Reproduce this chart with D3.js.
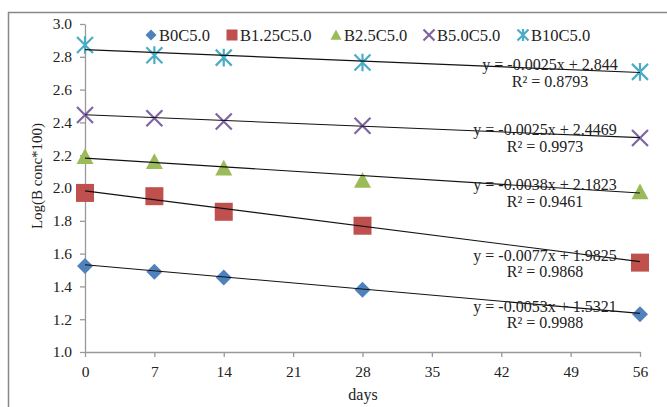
<!DOCTYPE html>
<html><head><meta charset="utf-8">
<script src="https://cdn.jsdelivr.net/npm/d3@7"></script>
<style>body{margin:0;background:#fff}svg{display:block}</style>
</head><body><svg id="c" width="667" height="407"></svg>
<script>
const days = [0, 7, 14, 28, 56];
const seriesNames = ["B0C5.0", "B1.25C5.0", "B2.5C5.0", "B5.0C5.0", "B10C5.0"];
const B0C5 = [1.525, 1.49, 1.455, 1.38, 1.23];
const B125C5 = [1.97, 1.95, 1.855, 1.77, 1.545];
const B25C5 = [2.19, 2.16, 2.12, 2.045, 1.975];
const B50C5 = [2.445, 2.425, 2.405, 2.38, 2.305];
const B10C5 = [2.872, 2.81, 2.795, 2.765, 2.708];
const slopes = [-0.0053, -0.0077, -0.0038, -0.0025, -0.0025];
const intercepts = [1.5321, 1.9825, 2.1823, 2.4469, 2.844];
const eqLabels = ["y = -0.0053x + 1.5321", "y = -0.0077x + 1.9825", "y = -0.0038x + 2.1823", "y = -0.0025x + 2.4469", "y = -0.0025x + 2.844"];
const r2Labels = ["R² = 0.9988", "R² = 0.9868", "R² = 0.9461", "R² = 0.9973", "R² = 0.8793"];
const xTicks = [0, 7, 14, 21, 28, 35, 42, 49, 56];
const yTicks = [1.0, 1.2, 1.4, 1.6, 1.8, 2.0, 2.2, 2.4, 2.6, 2.8, 3.0];

const values = [B0C5, B125C5, B25C5, B50C5, B10C5];
const colors = ["#4F81BD", "#C0504D", "#9BBB59", "#8064A2", "#4BACC6"];
const font = "'Liberation Serif','Times New Roman',serif";

const svg = d3.select("#c");
svg.append("rect").attr("x", 8.5).attr("y", 12.5).attr("width", 670).attr("height", 410)
  .attr("fill", "none").attr("stroke", "#888").attr("stroke-width", 1.5);

const x = d3.scaleLinear().domain([0, 56]).range([85, 640]);
const y = d3.scaleLinear().domain([1, 3]).range([352, 24]);

const gx = svg.append("g").attr("transform", "translate(0,352)")
  .call(d3.axisBottom(x).tickValues(xTicks).tickSize(5).tickSizeOuter(0).tickPadding(9));
const gy = svg.append("g").attr("transform", "translate(85,0)")
  .call(d3.axisLeft(y).tickValues(yTicks).tickFormat(d3.format(".1f")).tickSize(5).tickSizeOuter(0).tickPadding(8));
[gx, gy].forEach(g => {
  g.select(".domain").attr("stroke", "#999").attr("stroke-width", 1.3);
  g.selectAll(".tick line").attr("stroke", "#999").attr("stroke-width", 1.3);
  g.selectAll("text").attr("font-family", font).attr("font-size", 15.5).attr("fill", "#222");
});

svg.append("text").attr("x", 363).attr("y", 400).attr("text-anchor", "middle")
  .attr("font-family", font).attr("font-size", 16).attr("fill", "#222").text("days");
svg.append("text").attr("transform", "translate(42,176) rotate(-90)").attr("text-anchor", "middle")
  .attr("font-family", font).attr("font-size", 15).attr("fill", "#222").text("Log(B conc*100)");

function marker(g, i, cx, cy, s) {
  const c = colors[i];
  if (i === 0) {
    g.append("path").attr("d", `M${cx},${cy - s}L${cx + s},${cy}L${cx},${cy + s}L${cx - s},${cy}Z`).attr("fill", c);
  } else if (i === 1) {
    g.append("rect").attr("x", cx - s).attr("y", cy - s).attr("width", 2 * s).attr("height", 2 * s).attr("fill", c);
  } else if (i === 2) {
    g.append("path").attr("d", `M${cx},${cy - s}L${cx + s},${cy + s * 0.85}L${cx - s},${cy + s * 0.85}Z`).attr("fill", c);
  } else if (i === 3) {
    g.append("path").attr("d", `M${cx - s},${cy - s}L${cx + s},${cy + s}M${cx - s},${cy + s}L${cx + s},${cy - s}`)
      .attr("stroke", c).attr("stroke-width", 2.2).attr("fill", "none");
  } else {
    g.append("path").attr("d", `M${cx - s},${cy - s}L${cx + s},${cy + s}M${cx - s},${cy + s}L${cx + s},${cy - s}M${cx},${cy - s * 1.1}L${cx},${cy + s * 1.1}`)
      .attr("stroke", c).attr("stroke-width", 2.2).attr("fill", "none");
  }
}

const sizes = [8, 9, 8.5, 8, 8];
values.forEach((vals, i) => {
  const g = svg.append("g");
  vals.forEach((v, j) => marker(g, i, x(days[j]), y(v), sizes[i]));
});

// trendlines
values.forEach((vals, i) => {
  svg.append("line").attr("x1", x(0)).attr("y1", y(intercepts[i]))
    .attr("x2", x(56)).attr("y2", y(intercepts[i] + slopes[i] * 56))
    .attr("stroke", "#111").attr("stroke-width", 1.1);
});

// equation labels
const eqPos = [[545, 312, 328], [545, 261, 277], [545, 190, 207], [545, 135, 152], [550, 70, 87]];
eqPos.forEach((p, i) => {
  svg.append("text").attr("x", p[0]).attr("y", p[1]).attr("text-anchor", "middle")
    .attr("font-family", font).attr("font-size", 16).attr("fill", "#222").text(eqLabels[i]);
  svg.append("text").attr("x", p[0]).attr("y", p[2]).attr("text-anchor", "middle")
    .attr("font-family", font).attr("font-size", 16).attr("fill", "#222").text(r2Labels[i]);
});

// legend
const legX = [151, 232, 336, 429, 523];
const lg = svg.append("g");
seriesNames.forEach((n, i) => {
  marker(lg, i, legX[i], 35, 5.5);
  lg.append("text").attr("x", legX[i] + 8).attr("y", 41).attr("font-family", font)
    .attr("font-size", 16.5).attr("fill", "#222").text(n);
});
</script></body></html>
